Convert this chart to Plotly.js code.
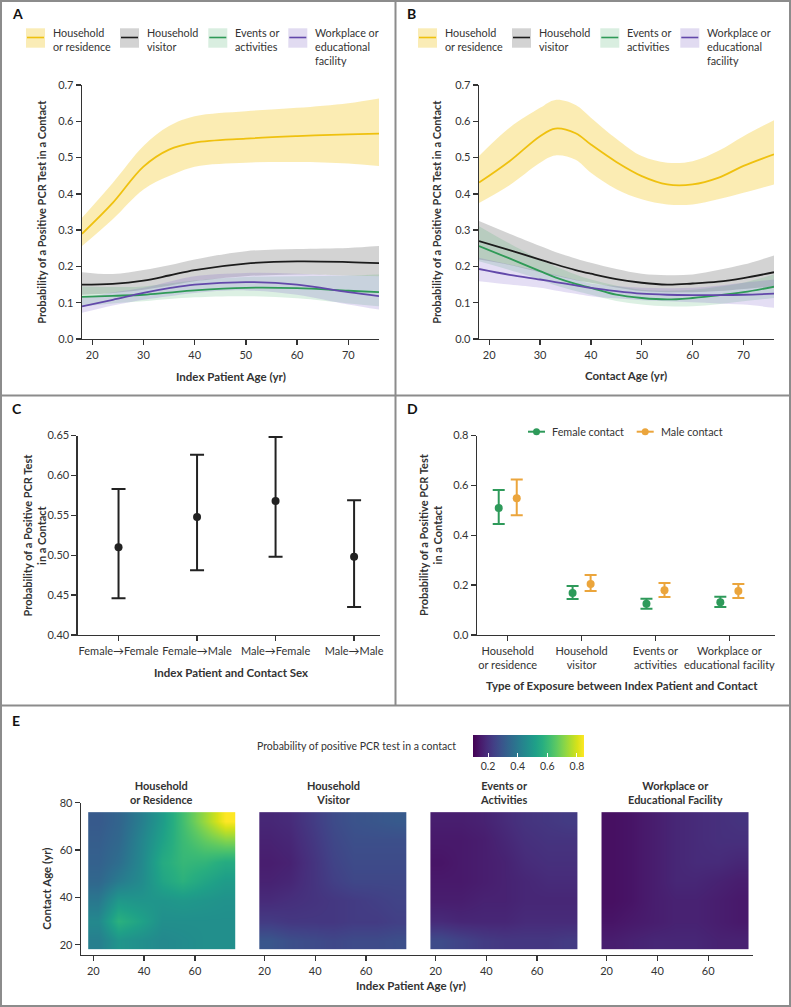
<!DOCTYPE html>
<html>
<head>
<meta charset="utf-8">
<script src="https://cdn.plot.ly/plotly-3.0.1.min.js"></script>
<style>html,body{margin:0;padding:0;background:#fff}</style>
</head>
<body>
<div id="myPlot" style="width:791px;height:1007px"></div>
<script>
/**
 * Data
 */

// Panel A: by index patient age
const ageA = [18, 24, 30, 35, 40, 50, 60, 70, 76];
const resA = [0.29, 0.375, 0.475, 0.522, 0.541, 0.552, 0.559, 0.564, 0.566];
const resAHi = [0.334, 0.43, 0.532, 0.587, 0.614, 0.628, 0.637, 0.65, 0.663];
const resALo = [0.256, 0.33, 0.412, 0.449, 0.475, 0.486, 0.488, 0.484, 0.477];
const visA = [0.15, 0.152, 0.161, 0.175, 0.19, 0.208, 0.214, 0.212, 0.209];
const visAHi = [0.184, 0.179, 0.19, 0.203, 0.219, 0.242, 0.248, 0.251, 0.256];
const visALo = [0.122, 0.127, 0.136, 0.147, 0.159, 0.173, 0.178, 0.175, 0.173];
const evtA = [0.116, 0.119, 0.122, 0.128, 0.134, 0.141, 0.14, 0.133, 0.129];
const evtAHi = [0.145, 0.143, 0.145, 0.153, 0.161, 0.171, 0.173, 0.175, 0.178];
const evtALo = [0.09, 0.098, 0.104, 0.11, 0.115, 0.118, 0.112, 0.098, 0.09];
const workA = [0.09, 0.108, 0.127, 0.14, 0.15, 0.157, 0.15, 0.129, 0.118];
const workAHi = [0.113, 0.128, 0.141, 0.158, 0.173, 0.182, 0.18, 0.175, 0.173];
const workALo = [0.072, 0.092, 0.108, 0.118, 0.127, 0.134, 0.122, 0.095, 0.081];

// Panel B: by contact age
const ageB = [18, 24, 30, 33, 37, 40, 45, 50, 55, 60, 65, 70, 76];
const resB = [0.431, 0.49, 0.559, 0.58, 0.567, 0.536, 0.488, 0.449, 0.426, 0.426, 0.444, 0.477, 0.509];
const resBHi = [0.504, 0.582, 0.637, 0.659, 0.645, 0.61, 0.552, 0.504, 0.486, 0.49, 0.518, 0.559, 0.603];
const resBLo = [0.375, 0.424, 0.486, 0.506, 0.494, 0.458, 0.413, 0.385, 0.371, 0.371, 0.385, 0.403, 0.426];
const visB = [0.27, 0.245, 0.219, 0.206, 0.19, 0.18, 0.165, 0.155, 0.15, 0.153, 0.158, 0.168, 0.184];
const visBHi = [0.325, 0.29, 0.256, 0.24, 0.222, 0.21, 0.193, 0.18, 0.176, 0.178, 0.19, 0.205, 0.23];
const visBLo = [0.219, 0.204, 0.184, 0.174, 0.162, 0.155, 0.142, 0.132, 0.129, 0.129, 0.132, 0.138, 0.145];
const evtB = [0.256, 0.222, 0.187, 0.17, 0.152, 0.141, 0.122, 0.113, 0.109, 0.113, 0.12, 0.129, 0.144];
const evtBHi = [0.311, 0.263, 0.219, 0.2, 0.178, 0.164, 0.147, 0.136, 0.133, 0.136, 0.144, 0.155, 0.178];
const evtBLo = [0.214, 0.19, 0.164, 0.148, 0.132, 0.122, 0.105, 0.095, 0.09, 0.09, 0.096, 0.104, 0.113];
const workB = [0.193, 0.177, 0.164, 0.157, 0.148, 0.141, 0.132, 0.125, 0.122, 0.121, 0.121, 0.122, 0.125];
const workBHi = [0.224, 0.205, 0.187, 0.177, 0.163, 0.153, 0.146, 0.141, 0.14, 0.141, 0.147, 0.155, 0.164];
const workBLo = [0.159, 0.15, 0.141, 0.134, 0.125, 0.118, 0.112, 0.107, 0.104, 0.101, 0.098, 0.095, 0.086];

// Panel C: sex pairs
const sexPairs = ["Female→Female", "Female→Male", "Male→Female", "Male→Male"];
const sexProb = [0.51, 0.548, 0.568, 0.498];
const sexLo = [0.446, 0.481, 0.498, 0.435];
const sexHi = [0.583, 0.626, 0.648, 0.569];

// Panel D: exposure type by contact sex
const exposureLabels = ["Household<br>or residence", "Household<br>visitor", "Events or<br>activities", "Workplace or<br>educational facility"];
const femaleProb = [0.509, 0.168, 0.125, 0.131];
const femaleLo = [0.445, 0.144, 0.105, 0.112];
const femaleHi = [0.581, 0.196, 0.145, 0.153];
const maleProb = [0.548, 0.205, 0.179, 0.176];
const maleLo = [0.48, 0.176, 0.152, 0.148];
const maleHi = [0.624, 0.241, 0.209, 0.205];

// Panel E: index age (columns) x contact age (rows, bottom to top)
const heatAges = [22, 30, 39, 47, 55, 64, 72];
const heatTitles = ["Household<br>or Residence", "Household<br>Visitor", "Events or<br>Activities", "Workplace or<br>Educational Facility"];
const heatRes = [
  [0.42, 0.49, 0.47, 0.45, 0.46, 0.47, 0.47],
  [0.45, 0.58, 0.53, 0.47, 0.47, 0.47, 0.47],
  [0.40, 0.50, 0.49, 0.49, 0.50, 0.49, 0.48],
  [0.35, 0.41, 0.46, 0.54, 0.58, 0.54, 0.51],
  [0.33, 0.37, 0.45, 0.56, 0.60, 0.59, 0.56],
  [0.32, 0.35, 0.44, 0.53, 0.61, 0.67, 0.71],
  [0.31, 0.34, 0.42, 0.51, 0.62, 0.74, 0.85]
];
const heatVis = [
  [0.30, 0.28, 0.27, 0.26, 0.27, 0.27, 0.28],
  [0.23, 0.22, 0.22, 0.22, 0.23, 0.23, 0.24],
  [0.19, 0.20, 0.21, 0.22, 0.23, 0.24, 0.25],
  [0.17, 0.18, 0.21, 0.24, 0.26, 0.26, 0.26],
  [0.16, 0.17, 0.21, 0.25, 0.27, 0.27, 0.27],
  [0.17, 0.18, 0.22, 0.26, 0.28, 0.28, 0.28],
  [0.18, 0.19, 0.23, 0.27, 0.29, 0.30, 0.31]
];
const heatEvt = [
  [0.27, 0.25, 0.23, 0.22, 0.22, 0.22, 0.23],
  [0.19, 0.18, 0.18, 0.18, 0.19, 0.19, 0.19],
  [0.16, 0.16, 0.17, 0.17, 0.18, 0.18, 0.18],
  [0.15, 0.15, 0.16, 0.17, 0.18, 0.19, 0.19],
  [0.14, 0.15, 0.16, 0.17, 0.19, 0.20, 0.20],
  [0.15, 0.15, 0.16, 0.18, 0.20, 0.21, 0.21],
  [0.16, 0.16, 0.17, 0.19, 0.21, 0.22, 0.23]
];
const heatWork = [
  [0.16, 0.17, 0.18, 0.18, 0.18, 0.17, 0.17],
  [0.14, 0.15, 0.16, 0.17, 0.17, 0.16, 0.15],
  [0.13, 0.14, 0.16, 0.17, 0.17, 0.16, 0.15],
  [0.13, 0.14, 0.16, 0.18, 0.18, 0.17, 0.16],
  [0.13, 0.14, 0.16, 0.18, 0.19, 0.19, 0.18],
  [0.13, 0.14, 0.16, 0.18, 0.19, 0.20, 0.20],
  [0.13, 0.14, 0.16, 0.18, 0.19, 0.20, 0.21]
];

/**
 * Helpers
 */
const W = 791, H = 1007;
const FONT = 'Lato, "Open Sans", sans-serif';
const INK = "#333";
const px = x => x / W;
const py = y => 1 - y / H;

const groups = [
  {name: "Household<br>or residence", line: "#efc10f", band: "rgba(242,198,23,0.33)", box: "#faecb6"},
  {name: "Household<br>visitor", line: "#1c1c1c", band: "rgba(130,130,130,0.35)", box: "#d3d3d3"},
  {name: "Events or<br>activities", line: "#2f9a57", band: "rgba(60,170,100,0.18)", box: "#d9eee0"},
  {name: "Workplace or<br>educational<br>facility", line: "#6248aa", band: "rgba(120,90,200,0.2)", box: "#e1dbf1"}
];

function ribbon(x, lo, hi, g, xa, ya) {
  return [
    {x: x, y: hi, xaxis: xa, yaxis: ya, mode: "lines", line: {width: 0, shape: "spline"}, showlegend: false, hoverinfo: "skip"},
    {x: x, y: lo, xaxis: xa, yaxis: ya, mode: "lines", line: {width: 0, shape: "spline"}, fill: "tonexty", fillcolor: g.band, showlegend: false, hoverinfo: "skip"}
  ];
}
function curve(x, mid, g, xa, ya) {
  return {x: x, y: mid, xaxis: xa, yaxis: ya, mode: "lines", line: {color: g.line, width: 1.8, shape: "spline"}, showlegend: false};
}

const setsA = [[resA, resALo, resAHi], [visA, visALo, visAHi], [evtA, evtALo, evtAHi], [workA, workALo, workAHi]];
const setsB = [[resB, resBLo, resBHi], [visB, visBLo, visBHi], [evtB, evtBLo, evtBHi], [workB, workBLo, workBHi]];

const data = [];
setsA.forEach((s, i) => data.push(...ribbon(ageA, s[1], s[2], groups[i], "x", "y")));
setsA.forEach((s, i) => data.push(curve(ageA, s[0], groups[i], "x", "y")));
setsB.forEach((s, i) => data.push(...ribbon(ageB, s[1], s[2], groups[i], "x2", "y2")));
setsB.forEach((s, i) => data.push(curve(ageB, s[0], groups[i], "x2", "y2")));

// Panel C
data.push({
  x: sexPairs, y: sexProb, xaxis: "x3", yaxis: "y3", mode: "markers", type: "scatter",
  marker: {color: "#222", size: 8},
  error_y: {type: "data", symmetric: false, array: sexHi.map((v, i) => v - sexProb[i]), arrayminus: sexLo.map((v, i) => sexProb[i] - v), color: "#222", thickness: 2, width: 7},
  showlegend: false
});

// Panel D
const GREEN = "#2e9a5a", ORANGE = "#eba53c";
const dShift = 0.122;
function sexSeries(prob, lo, hi, color, shift) {
  return {
    x: prob.map((_, i) => i + shift), y: prob, xaxis: "x4", yaxis: "y4", mode: "markers", type: "scatter",
    marker: {color: color, size: 8},
    error_y: {type: "data", symmetric: false, array: hi.map((v, i) => v - prob[i]), arrayminus: lo.map((v, i) => prob[i] - v), color: color, thickness: 2, width: 6},
    showlegend: false
  };
}
data.push(sexSeries(femaleProb, femaleLo, femaleHi, GREEN, -dShift));
data.push(sexSeries(maleProb, maleLo, maleHi, ORANGE, dShift));

// Panel E
[heatRes, heatVis, heatEvt, heatWork].forEach((z, i) => {
  data.push({
    type: "heatmap", x: heatAges, y: heatAges, z: z, zsmooth: "best",
    xaxis: "x" + (5 + i), yaxis: "y5", coloraxis: "coloraxis", hoverinfo: "skip"
  });
});

/**
 * Layout
 */
const tickFont = {family: FONT, size: 11, color: INK};
function axis(extra) {
  return Object.assign({
    showline: true, linecolor: INK, linewidth: 1.3, ticks: "outside", ticklen: 5, tickwidth: 1.3, tickcolor: INK,
    showgrid: false, zeroline: false, tickfont: tickFont, fixedrange: true
  }, extra);
}

const yAB = [py(339), py(85)];
const yCD = [py(635), py(435.5)];
const layout = {
  width: W, height: H,
  margin: {l: 0, r: 0, t: 0, b: 0},
  paper_bgcolor: "#fff", plot_bgcolor: "rgba(0,0,0,0)",
  font: {family: FONT, color: INK},
  showlegend: false,
  xaxis: axis({domain: [px(82), px(379)], range: [18, 76], tickvals: [20, 30, 40, 50, 60, 70], anchor: "y"}),
  yaxis: axis({domain: yAB, range: [0, 0.7], dtick: 0.1, tickformat: ".1f", anchor: "x"}),
  xaxis2: axis({domain: [px(479), px(774)], range: [18, 76], tickvals: [20, 30, 40, 50, 60, 70], anchor: "y2"}),
  yaxis2: axis({domain: yAB, range: [0, 0.7], dtick: 0.1, tickformat: ".1f", anchor: "x2"}),
  xaxis3: axis({domain: [px(77.7), px(380)], type: "category", range: [-0.52, 3.33], anchor: "y3"}),
  yaxis3: axis({domain: yCD, range: [0.4, 0.65], dtick: 0.05, tickformat: ".2f", anchor: "x3"}),
  xaxis4: axis({domain: [px(477), px(775)], range: [-0.416, 3.618], tickvals: [0, 1, 2, 3], ticktext: exposureLabels, anchor: "y4"}),
  yaxis4: axis({domain: yCD, range: [0, 0.8], dtick: 0.2, tickformat: ".1f", anchor: "x4"}),
  yaxis5: axis({domain: [py(955), py(802.7)], range: [15.66, 80], tickvals: [20, 40, 60, 80], anchor: "x5"}),
  coloraxis: {
    colorscale: "Viridis", cmin: 0.1, cmax: 0.85,
    colorbar: {
      orientation: "h", x: px(528.8), xanchor: "center", y: py(735), yanchor: "top",
      len: 111, lenmode: "pixels", thickness: 22, xpad: 0, ypad: 0, outlinewidth: 0,
      ticks: "inside", ticklen: 4, tickcolor: "#fff", tickwidth: 1,
      tickvals: [0.2, 0.4, 0.6, 0.8], tickformat: ".1f", tickfont: {family: FONT, size: 10.5, color: INK}
    }
  },
  shapes: [],
  annotations: []
};

// heatmap x axes side by side, lines joined
const eStep = 171.1, eScale = 2.54, eLeft = 81;
for (let i = 0; i < 4; i++) {
  const d0 = eLeft + eStep * i;
  const d1 = i < 3 ? d0 + eStep : 753;
  const r0 = 20 - (93.3 - eLeft) / eScale;
  layout["xaxis" + (5 + i)] = axis({
    domain: [px(d0), px(d1)], range: [r0, r0 + (d1 - d0) / eScale],
    tickvals: [20, 40, 60], anchor: "y5"
  });
}

/**
 * Text
 */
function ann(text, x, y, size, extra) {
  return Object.assign({
    text: text, x: px(x), y: py(y), xref: "paper", yref: "paper", showarrow: false,
    xanchor: "center", yanchor: "middle",
    font: {family: FONT, size: size, color: INK}
  }, extra || {});
}
const A = layout.annotations;
[["A", 10, 13], ["B", 405, 13], ["C", 10, 408], ["D", 405, 408], ["E", 10, 720]].forEach(p =>
  A.push(ann("<b>" + p[0] + "</b>", p[1], p[2], 14, {xanchor: "left", font: {family: FONT, size: 14, color: "#111"}})));

A.push(ann("<b>Probability of a Positive PCR Test in a Contact</b>", 40.7, 212, 11, {textangle: -90}));
A.push(ann("<b>Probability of a Positive PCR Test in a Contact</b>", 435.7, 212, 11, {textangle: -90}));
A.push(ann("<b>Index Patient Age (yr)</b>", 230.5, 376.7, 11.5));
A.push(ann("<b>Contact Age (yr)</b>", 626, 375.7, 11.5));
A.push(ann("<b>Probability of a Positive PCR Test<br>in a Contact</b>", 33.5, 535, 11, {textangle: -90}));
A.push(ann("<b>Probability of a Positive PCR Test<br>in a Contact</b>", 430, 535, 11, {textangle: -90}));
A.push(ann("<b>Index Patient and Contact Sex</b>", 231, 672.3, 11.5));
A.push(ann("<b>Type of Exposure between Index Patient and Contact</b>", 622, 685.7, 11.5));
A.push(ann("<b>Contact Age (yr)</b>", 45.7, 889, 11.5, {textangle: -90}));
A.push(ann("<b>Index Patient Age (yr)</b>", 411, 985, 11.5));
A.push(ann("Probability of positive PCR test in a contact", 458, 746, 10.5, {xanchor: "right"}));
heatTitles.forEach((t, i) => A.push(ann("<b>" + t + "</b>", 161.9 + eStep * i, 792.5, 11)));

// legends for A and B
const boxX = [26, 120, 208.3, 288.3];
const textX = [50.7, 145, 233.3, 312.7];
[0, 392].forEach(off => {
  groups.forEach((g, i) => {
    const bx = boxX[i] + off;
    layout.shapes.push({type: "rect", xref: "paper", yref: "paper", x0: px(bx), x1: px(bx + 19), y0: py(47.7), y1: py(28.3), fillcolor: g.box, line: {width: 0}});
    layout.shapes.push({type: "line", xref: "paper", yref: "paper", x0: px(bx + 1), x1: px(bx + 18), y0: py(37.5), y1: py(37.5), line: {color: g.line, width: 1.6}});
    A.push(ann(g.name, textX[i] + off, 24.5, 10.8, {xanchor: "left", yanchor: "top", align: "left"}));
  });
});

// legend for D
[["Female contact", GREEN, 528], ["Male contact", ORANGE, 636.7]].forEach(l => {
  layout.shapes.push({type: "line", xref: "paper", yref: "paper", x0: px(l[2]), x1: px(l[2] + 17), y0: py(431.7), y1: py(431.7), line: {color: l[1], width: 2}});
  layout.shapes.push({type: "circle", xref: "paper", yref: "paper", x0: px(l[2] + 5), x1: px(l[2] + 12), y0: py(435.2), y1: py(428.2), fillcolor: l[1], line: {width: 0}});
  A.push(ann(l[0], l[2] + 22, 431.7, 10.8, {xanchor: "left"}));
});

// panel frames
const FRAME = "#8c8c8c";
layout.shapes.push({type: "rect", xref: "paper", yref: "paper", x0: px(1), x1: px(790), y0: py(1006), y1: py(1), line: {color: FRAME, width: 2}});
layout.shapes.push({type: "line", xref: "paper", yref: "paper", x0: px(395.5), x1: px(395.5), y0: py(705), y1: py(0), line: {color: FRAME, width: 2}});
layout.shapes.push({type: "line", xref: "paper", yref: "paper", x0: 0, x1: 1, y0: py(395.5), y1: py(395.5), line: {color: FRAME, width: 2}});
layout.shapes.push({type: "line", xref: "paper", yref: "paper", x0: 0, x1: 1, y0: py(705.5), y1: py(705.5), line: {color: FRAME, width: 2}});

const myPlot = document.getElementById("myPlot");
Plotly.newPlot(myPlot, data, layout, {displayModeBar: false, staticPlot: true});
</script>
</body>
</html>
